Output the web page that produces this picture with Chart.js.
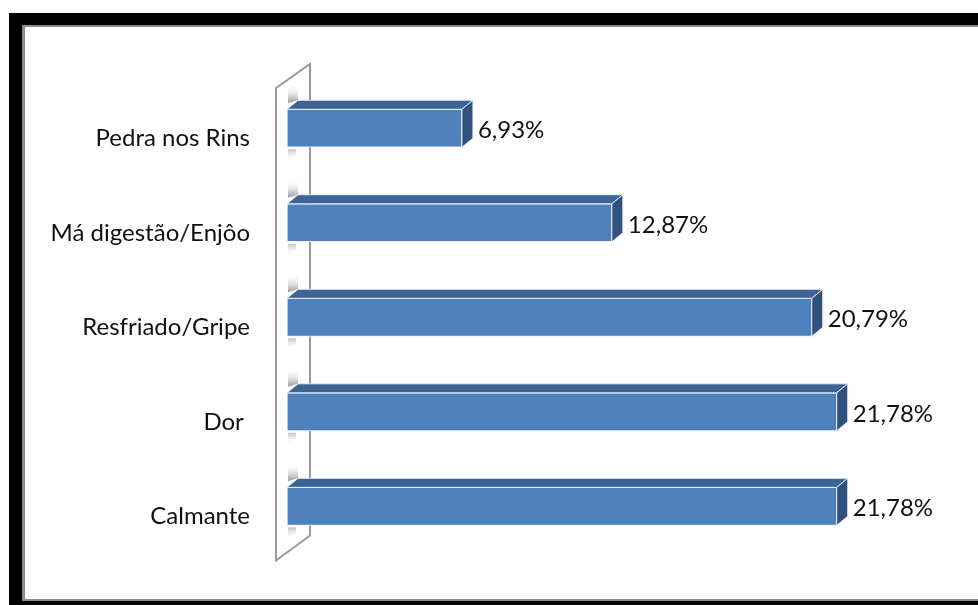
<!DOCTYPE html>
<html>
<head>
<meta charset="utf-8">
<script src="https://cdn.jsdelivr.net/npm/chart.js@4/dist/chart.umd.min.js"></script>
<style>
  html, body { margin: 0; padding: 0; background: #fff; }
  #wrap { width: 978px; height: 605px; position: relative; }
  canvas { display: block; }
</style>
</head>
<body>
<div id="wrap"><canvas id="c" width="978" height="605"></canvas></div>
<script>
// Categories (top to bottom) and their shares in percent
const categories = ['Pedra nos Rins', 'Má digestão/Enjôo', 'Resfriado/Gripe', 'Dor ', 'Calmante'];
const percentages = [6.93, 12.87, 20.79, 21.78, 21.78];

const FONT = 'Lato, "Open Sans", sans-serif';
const FRONT = '#4f81bd';
const TOP = '#3c6494';
const SIDE = '#31527c';
const DX = 11, DY = 9;   // depth of the 3D extrusion

function fmt(v) { return v.toFixed(2).replace('.', ',') + '%'; }

// Black/grey picture frame behind the chart
const framePlugin = {
  id: 'frame',
  beforeDraw(chart) {
    const ctx = chart.ctx;
    const W = chart.width, H = chart.height;
    ctx.save();
    ctx.fillStyle = '#fff';
    ctx.fillRect(0, 0, W, H);
    ctx.fillStyle = '#000';
    ctx.fillRect(9, 13, W - 9, 12);
    ctx.fillRect(9, 13, 13, H - 13);
    ctx.fillRect(9, 601, W - 9, H - 601);
    ctx.fillStyle = '#8c8c8c';
    ctx.fillRect(22, 25, W - 22, 2);
    ctx.fillRect(22, 25, 3, 576);
    ctx.fillRect(22, 599, W - 22, 2);
    ctx.restore();
  }
};

// Slanted back wall and faint reflections of the bar ends
const wallPlugin = {
  id: 'wall',
  beforeDatasetsDraw(chart) {
    const ctx = chart.ctx;
    const a = chart.chartArea;
    const x0 = chart.scales.x.getPixelForValue(0);
    const xl = x0 - 11, xr = x0 + 23;
    ctx.save();
    ctx.strokeStyle = '#9a9a9a';
    ctx.lineWidth = 2;
    ctx.beginPath();
    ctx.moveTo(xl, a.top + 7);
    ctx.lineTo(xr, a.top - 17);
    ctx.lineTo(xr, a.bottom - 18);
    ctx.lineTo(xl, a.bottom + 7);
    ctx.closePath();
    ctx.stroke();

    const meta = chart.getDatasetMeta(0);
    meta.data.forEach(bar => {
      const h = bar.height;
      const top = bar.y - h / 2, bot = bar.y + h / 2;
      // above the bar
      let g = ctx.createLinearGradient(0, top - DY - 16, 0, top - DY + 2);
      g.addColorStop(0, 'rgba(255,255,255,0)');
      g.addColorStop(1, 'rgba(130,130,130,0.75)');
      ctx.fillStyle = g;
      ctx.beginPath();
      ctx.moveTo(x0 + 1, top - 6);
      ctx.lineTo(x0 + 1, top - 20);
      ctx.lineTo(x0 + 11, top - 28);
      ctx.lineTo(x0 + 11, top - DY);
      ctx.closePath();
      ctx.fill();
      // below the bar
      g = ctx.createLinearGradient(0, bot, 0, bot + 14);
      g.addColorStop(0, 'rgba(140,140,140,0.7)');
      g.addColorStop(1, 'rgba(255,255,255,0)');
      ctx.fillStyle = g;
      ctx.beginPath();
      ctx.moveTo(x0 + 1, bot + 2);
      ctx.lineTo(x0 + 9, bot + 2);
      ctx.lineTo(x0 + 9, bot + 8);
      ctx.lineTo(x0 + 1, bot + 14);
      ctx.closePath();
      ctx.fill();
    });
    ctx.restore();
  }
};

// Top and side faces of each bar plus the value labels
const depthPlugin = {
  id: 'depth',
  afterDatasetsDraw(chart) {
    const ctx = chart.ctx;
    const meta = chart.getDatasetMeta(0);
    ctx.save();
    meta.data.forEach((bar, i) => {
      const h = bar.height;
      const top = bar.y - h / 2, bot = bar.y + h / 2;
      const x = bar.x, b = bar.base;
      ctx.lineWidth = 1;
      ctx.strokeStyle = 'rgba(235,242,250,0.9)';
      // top face
      ctx.fillStyle = TOP;
      ctx.beginPath();
      ctx.moveTo(b, top);
      ctx.lineTo(x, top);
      ctx.lineTo(x + DX, top - DY);
      ctx.lineTo(b + DX, top - DY);
      ctx.closePath();
      ctx.fill();
      ctx.stroke();
      // side face
      ctx.fillStyle = SIDE;
      ctx.beginPath();
      ctx.moveTo(x, top);
      ctx.lineTo(x + DX, top - DY);
      ctx.lineTo(x + DX, bot - DY);
      ctx.lineTo(x, bot);
      ctx.closePath();
      ctx.fill();
      ctx.stroke();
      // value label
      ctx.fillStyle = '#111';
      ctx.font = '24px ' + FONT;
      ctx.textAlign = 'left';
      ctx.textBaseline = 'middle';
      ctx.fillText(fmt(percentages[i]), x + DX + 5, bar.y + 2);
    });
    ctx.restore();
  }
};

new Chart(document.getElementById('c'), {
  type: 'bar',
  data: {
    labels: categories,
    datasets: [{
      data: percentages,
      backgroundColor: FRONT,
      borderColor: 'rgba(235,242,250,0.95)',
      borderWidth: 1,
      borderSkipped: false,
      barThickness: 38
    }]
  },
  options: {
    indexAxis: 'y',
    responsive: false,
    animation: false,
    events: [],
    layout: { padding: { left: 0, right: 60, top: 81, bottom: 45 } },
    plugins: { legend: { display: false }, tooltip: { enabled: false } },
    scales: {
      x: { display: false, min: 0, max: 25 },
      y: {
        grid: { display: false, drawTicks: false },
        border: { display: false },
        ticks: {
          color: '#111',
          font: { family: FONT, size: 24 },
          padding: 37,
          labelOffset: 10,
          autoSkip: false
        },
        afterFit(scale) { scale.width = 287; }
      }
    }
  },
  plugins: [framePlugin, wallPlugin, depthPlugin]
});
</script>
</body>
</html>
